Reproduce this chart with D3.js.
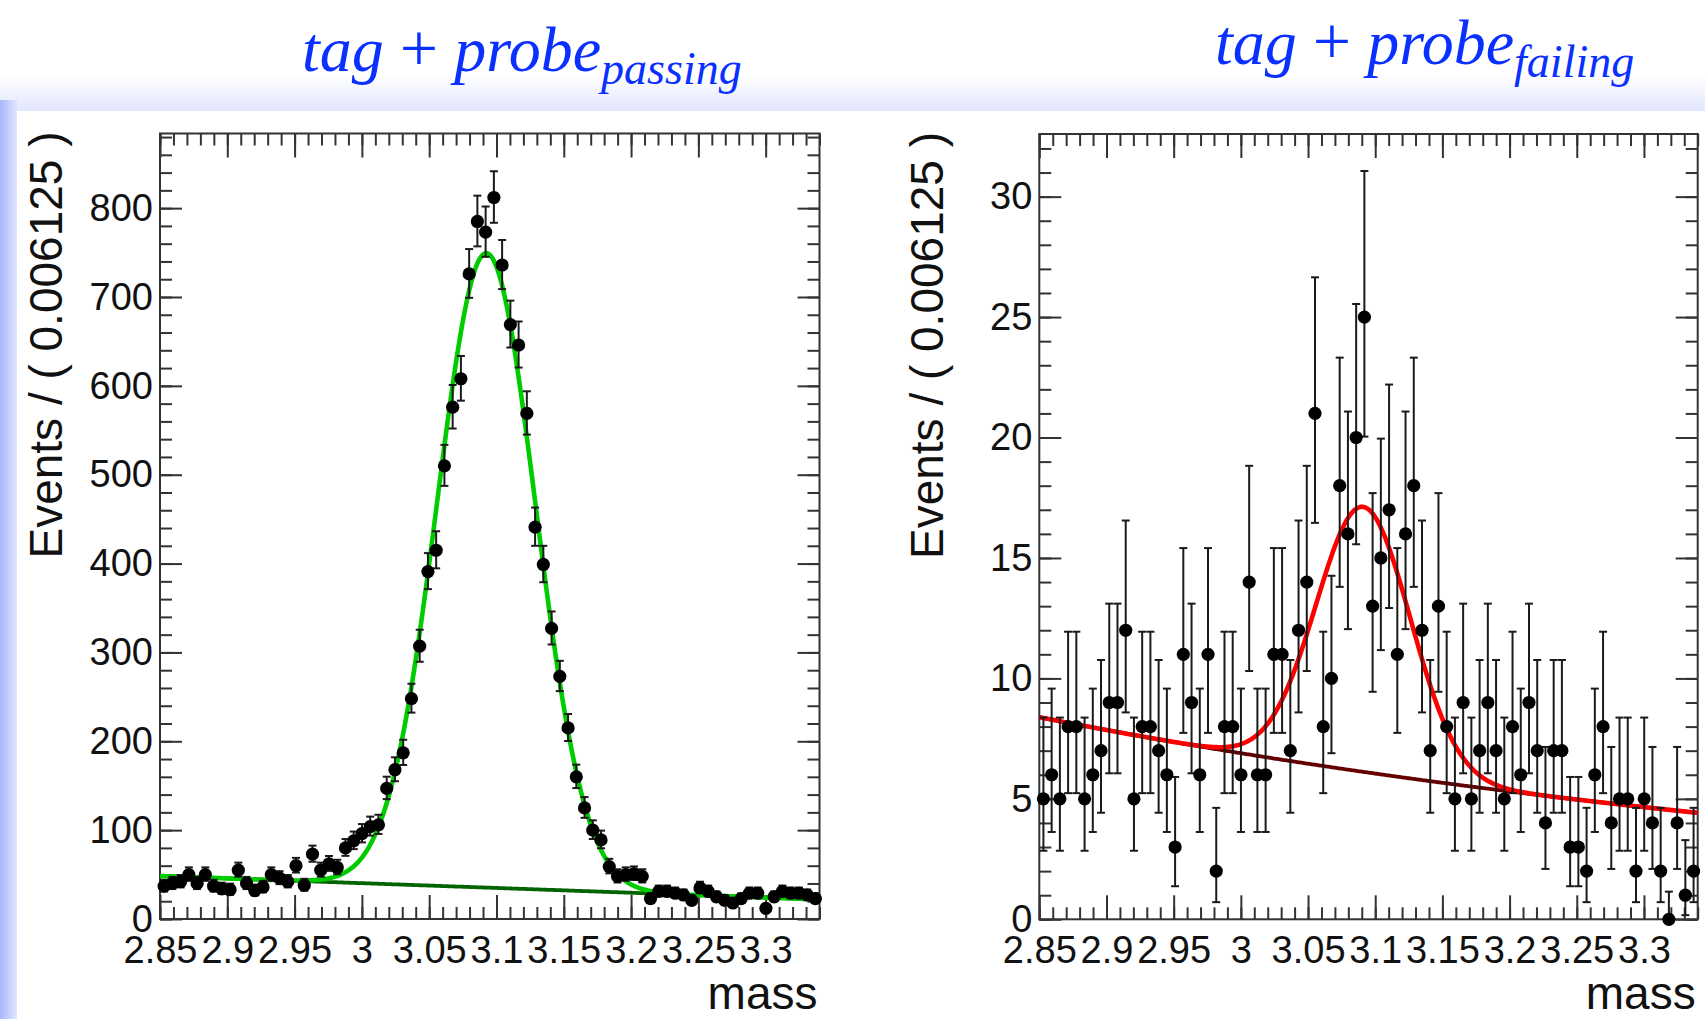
<!DOCTYPE html>
<html>
<head>
<meta charset="utf-8">
<script src="https://cdn.jsdelivr.net/npm/d3@7/dist/d3.min.js"></script>
<style>
  html, body { margin: 0; padding: 0; background: #fff; }
  svg { display: block; }
  text { font-family: "Liberation Sans", Arial, Helvetica, sans-serif; }
  .title { font-family: "Liberation Serif", "Times New Roman", serif; font-style: italic; fill: #0a30ff; }
</style>
</head>
<body>
<svg id="chart" width="1705" height="1019"></svg>
<script>
// ---- binning of the mass axis ----
const massRange = [2.85, 3.34];
const binWidth = 0.006125;

// ---- tick labels ----
const xTickValues = [2.85, 2.9, 2.95, 3.0, 3.05, 3.1, 3.15, 3.2, 3.25, 3.3];
const xTickLabels = ["2.85", "2.9", "2.95", "3", "3.05", "3.1", "3.15", "3.2", "3.25", "3.3"];
const passingYTicks = [0, 100, 200, 300, 400, 500, 600, 700, 800];
const failingYTicks = [0, 5, 10, 15, 20, 25, 30];

// ---- events per bin, 80 bins each ----
const passingCounts = [
  37, 40, 42, 50, 40, 50, 37, 34, 33, 55,
  40, 32, 36, 50, 46, 42, 60, 38, 73, 55,
  62, 58, 80, 88, 96, 104, 106, 147, 168, 187,
  248, 307, 391, 415, 510, 576, 608, 726, 785, 773,
  812, 736, 669, 646, 569, 441, 399, 327, 273, 215,
  160, 125, 100, 89, 59, 48, 50, 51, 48, 23,
  31, 31, 29, 27, 21, 35, 31, 25, 21, 18,
  23, 29, 29, 12, 25, 31, 29, 29, 27, 23
];
const failingCounts = [
  5, 6, 5, 8, 8, 5, 6, 7, 9, 9,
  12, 5, 8, 8, 7, 6, 3, 11, 9, 6,
  11, 2, 8, 8, 6, 14, 6, 6, 11, 11,
  7, 12, 14, 21, 8, 10, 18, 16, 20, 25,
  13, 15, 17, 11, 16, 18, 12, 7, 13, 8,
  5, 9, 5, 7, 9, 7, 5, 8, 6, 9,
  7, 4, 7, 7, 3, 3, 2, 6, 8, 4,
  5, 5, 2, 5, 4, 2, 0, 4, 1, 2
];

// ---- fit results: Gaussian peak on top of a background shape ----
// [mean, sigma, peak height (events/bin)]
const passingSignal = [3.0925, 0.0365, 714];
// linear background: [value at 2.85, value at 3.34]
const passingBackground = [48.4, 22.0];
const failingSignal = [3.091, 0.035, 11.0];
// exponential background: [value at 2.85, slope]
const failingBackground = [8.39, -1.308];

const svg = d3.select("#chart");

// ---- page background: soft blue band on top and strip on the left ----
const defs = svg.append("defs");
const gTop = defs.append("linearGradient").attr("id", "bandTop").attr("x1", 0).attr("y1", 0).attr("x2", 0).attr("y2", 1);
gTop.append("stop").attr("offset", "0%").attr("stop-color", "#ffffff");
gTop.append("stop").attr("offset", "68%").attr("stop-color", "#ffffff");
gTop.append("stop").attr("offset", "100%").attr("stop-color", "#e2e6fd");
const gLeft = defs.append("linearGradient").attr("id", "bandLeft").attr("x1", 0).attr("y1", 0).attr("x2", 1).attr("y2", 0);
gLeft.append("stop").attr("offset", "0%").attr("stop-color", "#a9b6fd");
gLeft.append("stop").attr("offset", "100%").attr("stop-color", "#e1e6fe");

svg.append("rect").attr("x", 0).attr("y", 0).attr("width", 1705).attr("height", 111).attr("fill", "url(#bandTop)");
svg.append("rect").attr("x", 0).attr("y", 100).attr("width", 17).attr("height", 919).attr("fill", "url(#bandLeft)");
svg.append("rect").attr("x", 17).attr("y", 111).attr("width", 1688).attr("height", 908).attr("fill", "#ffffff");

// ---- helpers ----
const binCenters = d3.range(passingCounts.length).map(i => massRange[0] + binWidth * (i + 0.5));

// 68% central Poisson interval (Wilson-Hilferty approximation)
function poissonInterval(n) {
  if (n === 0) return [0, 1.148];
  const lo = n * Math.pow(1 - 1 / (9 * n) - 1 / (3 * Math.sqrt(n)), 3);
  const m = n + 1;
  const hi = m * Math.pow(1 - 1 / (9 * m) + 1 / (3 * Math.sqrt(m)), 3);
  return [lo, hi];
}

function drawPanel(cfg) {
  const x = d3.scaleLinear().domain(massRange).range([cfg.left, cfg.right]);
  const y = d3.scaleLinear().domain([0, cfg.yMax]).range([cfg.bottom, cfg.top]);
  const g = svg.append("g");

  const minorX = d3.range(0, 50).map(i => +(2.85 + i * 0.01).toFixed(2)).filter(v => v <= massRange[1] + 1e-9);
  const minorY = d3.range(0, cfg.yMax, cfg.yMinorStep);

  const axisStyle = sel => {
    sel.select(".domain").remove();
    sel.selectAll("line").attr("stroke", "#333").attr("stroke-width", 2);
    sel.selectAll("text").attr("fill", "#111").style("font-size", "38px")
      .style("font-family", "'Liberation Sans', Arial, Helvetica, sans-serif");
  };

  // bottom axis: major + minor ticks pointing into the frame
  g.append("g").attr("transform", `translate(0,${cfg.bottom})`)
    .call(d3.axisBottom(x).tickValues(minorX).tickSize(-12).tickFormat(""))
    .call(axisStyle);
  g.append("g").attr("transform", `translate(0,${cfg.bottom})`)
    .call(d3.axisBottom(x).tickValues(xTickValues).tickSize(-24).tickPadding(17)
      .tickFormat((d, i) => xTickLabels[i]))
    .call(axisStyle);
  // top axis mirrors the ticks
  g.append("g").attr("transform", `translate(0,${cfg.top})`)
    .call(d3.axisTop(x).tickValues(minorX).tickSize(-12).tickFormat(""))
    .call(axisStyle);
  g.append("g").attr("transform", `translate(0,${cfg.top})`)
    .call(d3.axisTop(x).tickValues(xTickValues).tickSize(-24).tickFormat(""))
    .call(axisStyle);

  // left axis with labels, right axis mirrored
  g.append("g").attr("transform", `translate(${cfg.left},0)`)
    .call(d3.axisLeft(y).tickValues(minorY).tickSize(-12).tickFormat(""))
    .call(axisStyle);
  g.append("g").attr("transform", `translate(${cfg.left},0)`)
    .call(d3.axisLeft(y).tickValues(cfg.yTicks).tickSize(-22).tickPadding(7).tickFormat(d3.format("d")))
    .call(axisStyle);
  g.append("g").attr("transform", `translate(${cfg.right},0)`)
    .call(d3.axisRight(y).tickValues(minorY).tickSize(-12).tickFormat(""))
    .call(axisStyle);
  g.append("g").attr("transform", `translate(${cfg.right},0)`)
    .call(d3.axisRight(y).tickValues(cfg.yTicks).tickSize(-22).tickFormat(""))
    .call(axisStyle);

  // frame
  g.append("rect")
    .attr("x", cfg.left).attr("y", cfg.top)
    .attr("width", cfg.right - cfg.left).attr("height", cfg.bottom - cfg.top)
    .attr("fill", "none").attr("stroke", "#333").attr("stroke-width", 2);

  // axis titles
  g.append("text")
    .attr("x", cfg.right - 2).attr("y", cfg.bottom + 90)
    .attr("text-anchor", "end").style("font-size", "46px").attr("fill", "#111")
    .text("mass");
  g.append("text")
    .attr("transform", `translate(${cfg.yTitleX},${cfg.top - 2}) rotate(-90)`)
    .attr("text-anchor", "end").style("font-size", "46px").attr("fill", "#111")
    .text("Events / ( 0.006125 )");

  // fit curves: background component first, total on top
  const grid = d3.range(0, 491).map(i => massRange[0] + i * 0.001);
  const line = d3.line().x(d => x(d[0])).y(d => y(d[1])).curve(d3.curveLinear);
  const bkgPts = grid.map(m => [m, cfg.bkg(m)]);
  const totPts = grid.map(m => [m, cfg.bkg(m) + cfg.sig(m)]);

  const clip = "clip" + cfg.id;
  defs.append("clipPath").attr("id", clip).append("rect")
    .attr("x", cfg.left).attr("y", cfg.top)
    .attr("width", cfg.right - cfg.left).attr("height", cfg.bottom - cfg.top);

  const curves = g.append("g").attr("clip-path", `url(#${clip})`);
  curves.append("path").attr("d", line(bkgPts))
    .attr("fill", "none").attr("stroke", cfg.bkgColor).attr("stroke-width", 3.8);
  curves.append("path").attr("d", line(totPts))
    .attr("fill", "none").attr("stroke", cfg.totColor).attr("stroke-width", 4.6)
    .attr("stroke-linejoin", "round");

  // data points with Poisson error bars
  const pts = g.append("g");
  const cap = 4;
  cfg.counts.forEach((n, i) => {
    const cx = x(binCenters[i]);
    const [lo, hi] = poissonInterval(n);
    pts.append("line").attr("x1", cx).attr("x2", cx).attr("y1", y(lo)).attr("y2", y(hi))
      .attr("stroke", "#1a1a1a").attr("stroke-width", 2);
    [lo, hi].forEach(v => {
      pts.append("line").attr("x1", cx - cap).attr("x2", cx + cap).attr("y1", y(v)).attr("y2", y(v))
        .attr("stroke", "#1a1a1a").attr("stroke-width", 2);
    });
  });
  pts.selectAll("circle").data(cfg.counts).enter().append("circle")
    .attr("cx", (d, i) => x(binCenters[i]))
    .attr("cy", d => y(d))
    .attr("r", 6.6)
    .attr("fill", "#000");
}

const gauss = p => m => p[2] * Math.exp(-0.5 * Math.pow((m - p[0]) / p[1], 2));

drawPanel({
  id: "Pass",
  left: 160, right: 819.5, top: 133.5, bottom: 919,
  yMax: 884, yTicks: passingYTicks, yMinorStep: 20,
  yTitleX: 62,
  counts: passingCounts,
  sig: gauss(passingSignal),
  bkg: m => passingBackground[0] + (passingBackground[1] - passingBackground[0]) * (m - massRange[0]) / (massRange[1] - massRange[0]),
  totColor: "#00cc00", bkgColor: "#006400"
});

drawPanel({
  id: "Fail",
  left: 1039.3, right: 1697.7, top: 134, bottom: 919.3,
  yMax: 32.6, yTicks: failingYTicks, yMinorStep: 1,
  yTitleX: 943,
  counts: failingCounts,
  sig: gauss(failingSignal),
  bkg: m => failingBackground[0] * Math.exp(failingBackground[1] * (m - massRange[0])),
  totColor: "#ff0000", bkgColor: "#640000"
});

// ---- panel titles ----
function title(xPos, yBase, sub) {
  const t = svg.append("text").attr("class", "title").attr("x", xPos).attr("y", yBase).style("font-size", "64px");
  t.append("tspan").text("tag ");
  t.append("tspan").style("font-style", "normal").style("font-size", "68px").text("+");
  t.append("tspan").text(" probe");
  t.append("tspan").attr("dy", 13).style("font-size", "46px").text(sub);
}
title(302, 71, "passing");
title(1215, 64, "failing");
</script>
</body>
</html>
